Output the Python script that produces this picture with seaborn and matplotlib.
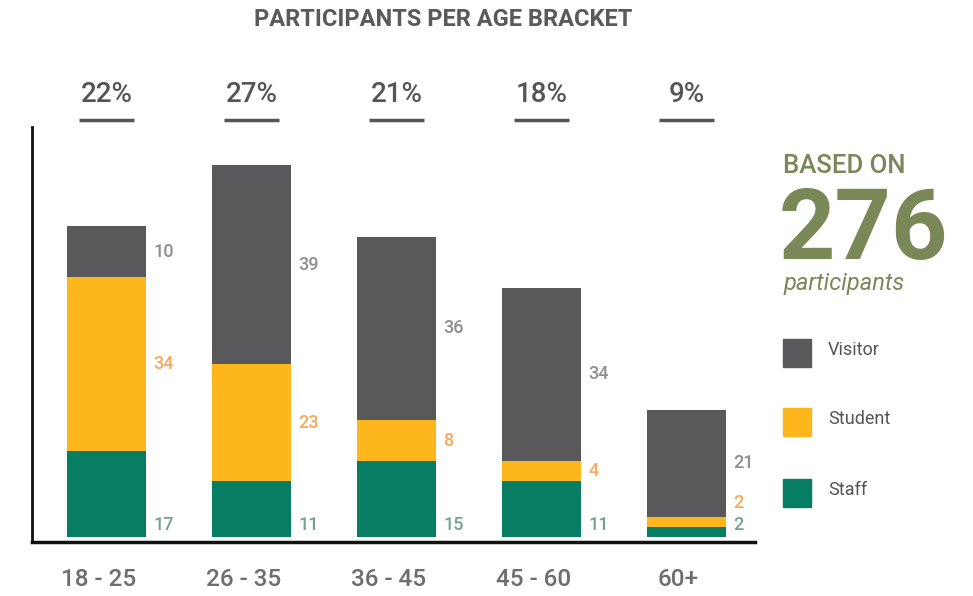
import matplotlib
matplotlib.use("Agg")
import matplotlib.pyplot as plt
import matplotlib.transforms as mtransforms
import seaborn as sns
import pandas as pd
import numpy as np

# ---- data ----
brackets = ["18 - 25", "26 - 35", "36 - 45", "45 - 60", "60+"]
staff = [17, 11, 15, 11, 2]
student = [34, 23, 8, 4, 2]
visitor = [10, 39, 36, 34, 21]
pct_labels = ["22%", "27%", "21%", "18%", "9%"]
total_participants = "276"
series_names = ["Visitor", "Student", "Staff"]

C_VIS = "#59595B"
C_STU = "#FDB71C"
C_STA = "#077E63"
L_VIS = "#8E8E8E"
L_STU = "#F8A85C"
L_STA = "#72A48D"
OLIVE = "#7A8757"

sns.set_theme(style="white")
plt.rcParams["font.family"] = ["Roboto", "DejaVu Sans"]

df = pd.DataFrame({"bracket": brackets, "staff": staff, "student": student, "visitor": visitor})
df["s1"] = df["staff"]
df["s2"] = df["staff"] + df["student"]
df["s3"] = df["s2"] + df["visitor"]

fig = plt.figure(figsize=(9.73, 5.96), dpi=100)
ax = fig.add_axes([32 / 973, (596 - 542) / 596, 723 / 973, 415 / 596])

bw = 0.545
sns.barplot(data=df, x="bracket", y="s3", color=C_VIS, width=bw, linewidth=0, saturation=1, ax=ax)
sns.barplot(data=df, x="bracket", y="s2", color=C_STU, width=bw, linewidth=0, saturation=1, ax=ax)
sns.barplot(data=df, x="bracket", y="s1", color=C_STA, width=bw, linewidth=0, saturation=1, ax=ax)

ax.set_xlim(-0.514, 4.472)
ax.set_ylim(-0.9, 80.5)
ax.set_xlabel("")
ax.set_ylabel("")
ax.set_yticks([])
ax.tick_params(axis="x", length=0, pad=19, labelsize=17.5, labelcolor="#6E6E6E")
shift = mtransforms.ScaledTranslation(-8 / 100, 0, fig.dpi_scale_trans)
for lab in ax.get_xticklabels():
    lab.set_fontweight("medium")
    lab.set_transform(lab.get_transform() + shift)
for s in ["top", "right"]:
    ax.spines[s].set_visible(False)
ax.spines["left"].set_color("#111111")
ax.spines["left"].set_linewidth(2)
ax.spines["bottom"].set_color("#111111")
ax.spines["bottom"].set_linewidth(2.5)

# value labels (stacked with a minimum vertical gap so they never collide)
lx_off = bw / 2 + 0.05
gap = 4.2
for i in range(len(brackets)):
    x = i + lx_off
    y_sta = 2.5
    y_stu = max(staff[i] + student[i] / 2, y_sta + gap)
    y_vis = max(staff[i] + student[i] + visitor[i] / 2, y_stu + gap)
    ax.text(x, y_sta, str(staff[i]), color=L_STA, fontsize=13, fontweight="medium",
            ha="left", va="center")
    ax.text(x, y_stu, str(student[i]), color=L_STU, fontsize=13,
            fontweight="medium", ha="left", va="center")
    ax.text(x, y_vis, str(visitor[i]), color=L_VIS,
            fontsize=13, fontweight="medium", ha="left", va="center")

# percentage labels above
trans = mtransforms.blended_transform_factory(ax.transData, fig.transFigure)
for i, p in enumerate(pct_labels):
    fig.text(i, 1 - 95 / 596, p, transform=trans, ha="center", va="center",
             fontsize=20, color="#555555", fontweight="medium")
    ax.plot([i - 0.19, i + 0.19], [1 - 120 / 596] * 2, transform=trans, color="#555555",
            lw=2.5, clip_on=False, solid_capstyle="butt")

# title
fig.text(443 / 973, 1 - 20 / 596, "PARTICIPANTS PER AGE BRACKET", ha="center", va="center",
         fontsize=17, fontweight="bold", color="#5A5A5A")

# right panel
fig.text(783 / 973, 1 - 166 / 596, "BASED ON", ha="left", va="center", fontsize=18.5,
         color=OLIVE, fontweight="medium")
fig.text(779 / 973, 1 - 232 / 596, total_participants, ha="left", va="center", fontsize=71,
         color=OLIVE, fontweight="bold")
fig.text(783 / 973, 1 - 283 / 596, "participants", ha="left", va="center", fontsize=17,
         color=OLIVE, style="italic")

leg_cols = [C_VIS, C_STU, C_STA]
leg_y = [353, 422, 493]
for name, col, yy in zip(series_names, leg_cols, leg_y):
    fig.patches.append(plt.Rectangle((783 / 973, 1 - (yy + 14) / 596), 28 / 973, 28 / 596,
                                     transform=fig.transFigure, color=col, figure=fig))
    fig.text(828 / 973, 1 - (yy - 3) / 596, name, ha="left", va="center", fontsize=13,
             color="#555555")

fig.savefig("out.png", dpi=100)
